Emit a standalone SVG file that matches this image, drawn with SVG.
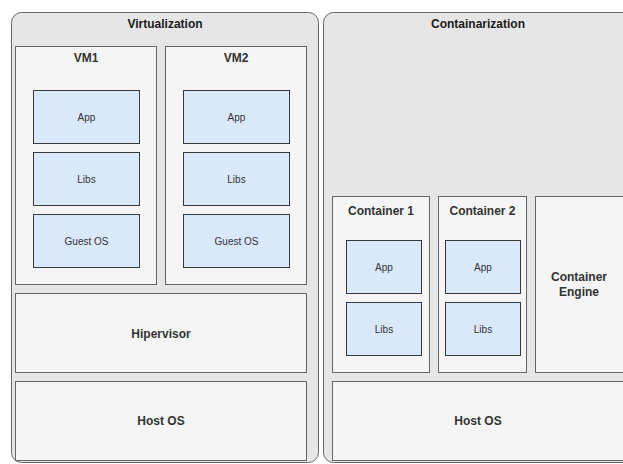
<svg xmlns="http://www.w3.org/2000/svg" width="623" height="464" viewBox="0 0 623 464">
<style>
.outer{fill:#e6e6e6;stroke:#666666;stroke-width:1}
.box{fill:#f5f5f5;stroke:#666666;stroke-width:1}
.blue{fill:#dae8fc;stroke:#36393d;stroke-width:1}
.t{font-family:"Liberation Sans",Arial,sans-serif;fill:#333333;text-anchor:middle}
.b{font-size:12px;font-weight:bold}
.s{font-size:10px}
.title{font-family:"Liberation Sans",Arial,sans-serif;fill:#1a1a1a;text-anchor:middle;font-size:12px;font-weight:bold}
</style>
<rect width="623" height="464" fill="#ffffff"/>
<g id="virtualization">
<rect class="outer" x="11.5" y="12.5" width="307" height="450" rx="10"/>
<text class="title" x="165" y="28">Virtualization</text>
</g>
<g id="containarization">
<rect class="outer" x="323.5" y="12.5" width="320" height="450" rx="10"/>
<text class="title" x="478" y="28">Containarization</text>
</g>
<g id="vm1">
<rect class="box" x="15.5" y="46.5" width="141" height="238"/>
<text class="t b" x="86" y="62">VM1</text>
</g>
<g id="vm2">
<rect class="box" x="165.5" y="46.5" width="141" height="238"/>
<text class="t b" x="236" y="62">VM2</text>
</g>
<g id="vm1-app"><rect class="blue" x="33.5" y="90.5" width="106" height="53"/><text class="t s" x="86.5" y="120.5">App</text></g>
<g id="vm1-libs"><rect class="blue" x="33.5" y="152.5" width="106" height="53"/><text class="t s" x="86.5" y="182.5">Libs</text></g>
<g id="vm1-guestos"><rect class="blue" x="33.5" y="214.5" width="106" height="53"/><text class="t s" x="86.5" y="244.5">Guest OS</text></g>
<g id="vm2-app"><rect class="blue" x="183.5" y="90.5" width="106" height="53"/><text class="t s" x="236.5" y="120.5">App</text></g>
<g id="vm2-libs"><rect class="blue" x="183.5" y="152.5" width="106" height="53"/><text class="t s" x="236.5" y="182.5">Libs</text></g>
<g id="vm2-guestos"><rect class="blue" x="183.5" y="214.5" width="106" height="53"/><text class="t s" x="236.5" y="244.5">Guest OS</text></g>
<g id="hipervisor"><rect class="box" x="15.5" y="293.5" width="291" height="79"/><text class="t b" x="161" y="338">Hipervisor</text></g>
<g id="hostos-left"><rect class="box" x="15.5" y="381.5" width="291" height="79"/><text class="t b" x="161" y="425">Host OS</text></g>
<g id="container1">
<rect class="box" x="332.5" y="196.5" width="97" height="176"/>
<text class="t b" x="381" y="215">Container 1</text>
</g>
<g id="container2">
<rect class="box" x="438.5" y="196.5" width="88" height="176"/>
<text class="t b" x="482.5" y="215">Container 2</text>
</g>
<g id="c1-app"><rect class="blue" x="346.5" y="240.5" width="75" height="53"/><text class="t s" x="384" y="270.5">App</text></g>
<g id="c1-libs"><rect class="blue" x="346.5" y="302.5" width="75" height="53"/><text class="t s" x="384" y="332.5">Libs</text></g>
<g id="c2-app"><rect class="blue" x="445.5" y="240.5" width="75" height="53"/><text class="t s" x="483" y="270.5">App</text></g>
<g id="c2-libs"><rect class="blue" x="445.5" y="302.5" width="75" height="53"/><text class="t s" x="483" y="332.5">Libs</text></g>
<g id="container-engine">
<rect class="box" x="535.5" y="196.5" width="100" height="176"/>
<text class="t b" x="579" y="281">Container</text>
<text class="t b" x="579" y="296">Engine</text>
</g>
<g id="hostos-right"><rect class="box" x="332.5" y="381.5" width="310" height="79"/><text class="t b" x="478" y="425">Host OS</text></g>
<g id="connectors"></g>
</svg>
